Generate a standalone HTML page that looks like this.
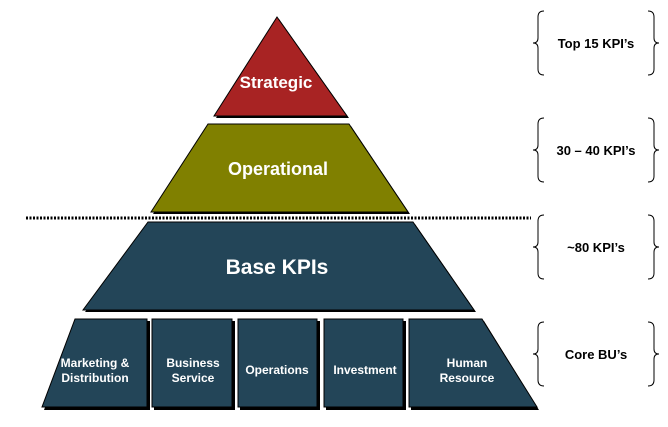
<!DOCTYPE html>
<html><head><meta charset="utf-8"><style>
html,body{margin:0;padding:0;background:#fff;}
svg{display:block;}
text{font-family:"Liberation Sans",Arial,sans-serif;font-weight:bold;}
</style></head><body>
<svg width="668" height="427" viewBox="0 0 668 427" xmlns="http://www.w3.org/2000/svg">
<g fill="#000">
<polygon points="279,19 349,118 216,118"/>
<polygon points="210,126 351,126 410,214 153,214"/>
<polygon points="150,224 415,224 476,312 85,312"/>
<polygon points="77,321 150,321 150,410 44,410"/>
<rect x="154" y="321" width="81" height="89"/>
<rect x="240" y="321" width="80" height="89"/>
<rect x="326" y="321" width="80" height="89"/>
<polygon points="411,321 484,321 539,410 411,410"/>
</g>
<polygon points="277,17 347,116 214,116" fill="#A82323" stroke="#000" stroke-width="1"/>
<polygon points="208,124 349,124 408,212 151,212" fill="#808000" stroke="#000" stroke-width="1"/>
<polygon points="148,222 413,222 474,310 83,310" fill="#234558" stroke="#000" stroke-width="1"/>
<polygon points="75,319 147,319 147,407 42,407" fill="#234558" stroke="#000" stroke-width="1"/>
<rect x="152" y="319" width="80" height="88" fill="#234558" stroke="#000" stroke-width="1"/>
<rect x="238" y="319" width="79" height="88" fill="#234558" stroke="#000" stroke-width="1"/>
<rect x="324" y="319" width="79" height="88" fill="#234558" stroke="#000" stroke-width="1"/>
<polygon points="409,319 482,319 537,407 409,407" fill="#234558" stroke="#000" stroke-width="1"/>
<line x1="26" y1="218" x2="531" y2="218" stroke="#000" stroke-width="3" stroke-dasharray="2,1.5"/>
<g fill="#fff" text-anchor="middle">
<text x="276" y="88" font-size="17">Strategic</text>
<text x="278" y="175" font-size="18">Operational</text>
<text x="277" y="274" font-size="21">Base KPIs</text>
<text x="95" y="367" font-size="12">Marketing &amp;</text>
<text x="95" y="382" font-size="12">Distribution</text>
<text x="193" y="367" font-size="12">Business</text>
<text x="193" y="382" font-size="12">Service</text>
<text x="277" y="374" font-size="12">Operations</text>
<text x="365" y="374" font-size="12">Investment</text>
<text x="467" y="367" font-size="12">Human</text>
<text x="467" y="382" font-size="12">Resource</text>
</g>
<g fill="none" stroke="#000" stroke-width="1">
<path d="M544,11 Q538,11 538,17 V38 Q538,43 533,43 Q538,43 538,48 V69 Q538,75 544,75"/>
<path d="M648,11 Q654,11 654,17 V38 Q654,43 659,43 Q654,43 654,48 V69 Q654,75 648,75"/>
<path d="M544,118 Q538,118 538,124 V145 Q538,150 533,150 Q538,150 538,155 V176 Q538,182 544,182"/>
<path d="M648,118 Q654,118 654,124 V145 Q654,150 659,150 Q654,150 654,155 V176 Q654,182 648,182"/>
<path d="M544,215 Q538,215 538,221 V242 Q538,247 533,247 Q538,247 538,252 V273 Q538,279 544,279"/>
<path d="M648,215 Q654,215 654,221 V242 Q654,247 659,247 Q654,247 654,252 V273 Q654,279 648,279"/>
<path d="M544,322 Q538,322 538,328 V349 Q538,354 533,354 Q538,354 538,359 V380 Q538,386 544,386"/>
<path d="M648,322 Q654,322 654,328 V349 Q654,354 659,354 Q654,354 654,359 V380 Q654,386 648,386"/>
</g>
<g fill="#000" text-anchor="middle" font-size="13">
<text x="596" y="48">Top 15 KPI’s</text>
<text x="596" y="155">30 – 40 KPI’s</text>
<text x="596" y="252">~80 KPI’s</text>
<text x="596" y="359">Core BU’s</text>
</g>
</svg>
</body></html>
